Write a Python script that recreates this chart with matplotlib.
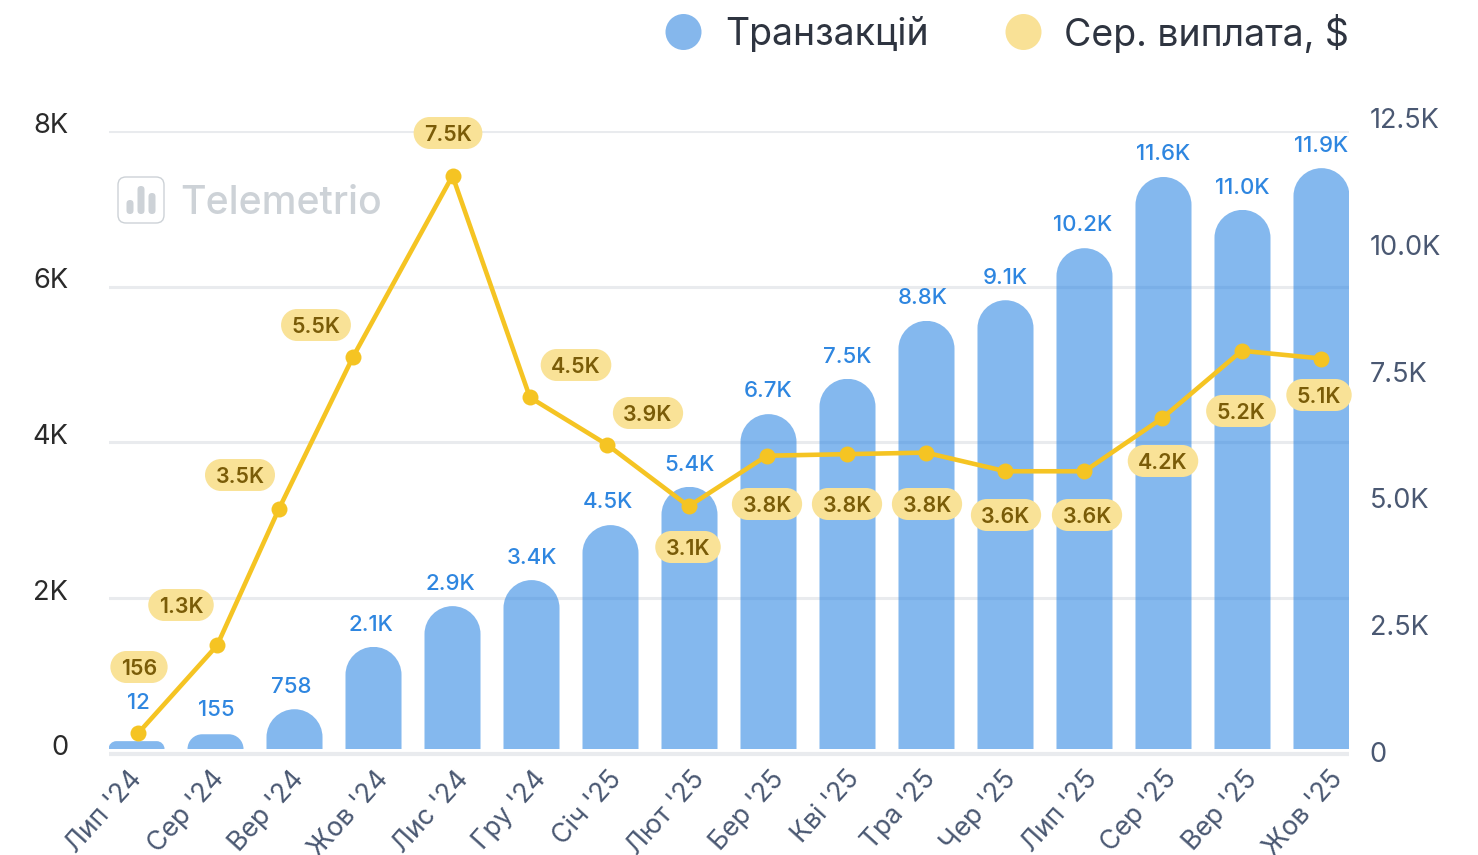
import matplotlib
matplotlib.use("Agg")
import matplotlib.pyplot as plt
from matplotlib.path import Path
from matplotlib.patches import Circle, FancyBboxPatch
from matplotlib.transforms import IdentityTransform, ScaledTranslation

plt.rcParams['font.family'] = ['Inter', 'DejaVu Sans']

months = ["Лип '24", "Сер '24", "Вер '24", "Жов '24", "Лис '24", "Гру '24", "Січ '25", "Лют '25",
          "Бер '25", "Кві '25", "Тра '25", "Чер '25", "Лип '25", "Сер '25", "Вер '25", "Жов '25"]
transactions = [0.16, 0.30, 0.81, 2.08, 2.91, 3.44, 4.56, 5.34,
                6.82, 7.54, 8.72, 9.14, 10.2, 11.65, 10.98, 11.83]
transaction_labels = ["12", "155", "758", "2.1K", "2.9K", "3.4K", "4.5K", "5.4K",
                      "6.7K", "7.5K", "8.8K", "9.1K", "10.2K", "11.6K", "11.0K", "11.9K"]
payout_x = [0.02, 1.02, 1.80, 2.74, 4.0, 4.98, 5.96, 6.99,
            7.98, 8.99, 9.99, 11.0, 12.0, 12.98, 13.99, 15.0]
payout = [0.26, 1.39, 3.14, 5.10, 7.43, 4.58, 3.97, 3.18,
          3.83, 3.85, 3.87, 3.63, 3.63, 4.31, 5.18, 5.08]
payout_labels = ["156", "1.3K", "3.5K", "5.5K", "7.5K", "4.5K", "3.9K", "3.1K",
                 "3.8K", "3.8K", "3.8K", "3.6K", "3.6K", "4.2K", "5.2K", "5.1K"]
left_ticks = [0, 2, 4, 6, 8]
left_tick_labels = ["0", "2K", "4K", "6K", "8K"]
right_ticks = [0, 2.5, 5, 7.5, 10, 12.5]
right_tick_labels = ["0", "2.5K", "5.0K", "7.5K", "10.0K", "12.5K"]
legend_names = ["Транзакцій", "Сер. виплата, $"]

W, H = 1478, 855
BLUE = "#2B85E2"; BLUE_TXT = "#2E86E0"; YEL = "#F5C423"; PILL = "#F9E297"; PILL_TXT = "#7A5C08"
GRID = "#E9EBEE"; SLATE = "#4A5872"; DARK = "#2A2A2A"; LOGO = "#CDD2D7"

# label offsets from the anchor point, in pixels
blue_dx = [1.5, .5, -3.5, -2.5, -2.5, .5, -2.5, -.5, -.5, -.5, -3.5, -.5, -1.5, -.5, -.5, -.5]
blue_dy = [38, 24, 22, 22, 22, 22, 23, 22, 23, 22, 23, 22, 23, 23, 22, 22]
tick_dx = [-8, -5.1, -4.3, 1.6, 2.5, .3, -2.8, 1, 1.9, -2.2, -4.3, -3.5, -.6, -.7, 1.1, 7]
pill_xy = [(139, 667), (181, 605), (240, 475), (316, 325), (448, 133), (576, 365), (648, 413), (688, 547),
           (767, 504), (847, 504), (927, 504), (1006, 515), (1087, 515), (1163, 461), (1241, 411), (1319, 395)]

fig = plt.figure(figsize=(W / 100, H / 100), dpi=100, facecolor="white")

def rect(x0, y_top, x1, y_bot):
    return [x0 / W, 1 - y_bot / H, (x1 - x0) / W, (y_bot - y_top) / H]

AX_L, AX_R, AX_T, AX_B = 109, 1349, 131.5, 753.5
SP = 78.97
xlim = (-(136.5 - AX_L) / SP, 15 + (AX_R - 1321.5) / SP)

ax = fig.add_axes(rect(AX_L, AX_T, AX_R, AX_B))
ax.set_xlim(*xlim); ax.set_ylim(0, 8)
ax.set_yticks(left_ticks, left_tick_labels)
ax.grid(axis="y", color=GRID, lw=2.2); ax.set_axisbelow(True)
ax.tick_params(axis="y", length=0, pad=29.5, labelsize=19.6, labelcolor=DARK)
shift = ScaledTranslation(0, 8.5 / 100, fig.dpi_scale_trans)
for t in ax.get_yticklabels():
    t.set_transform(t.get_transform() + shift)
for s in ax.spines.values():
    s.set_visible(False)
ax.set_xticks(range(len(months)), months)
ax.tick_params(axis="x", length=0, pad=9, labelsize=19.2, labelcolor=SLATE)
for i, t in enumerate(ax.get_xticklabels()):
    t.set_rotation(48); t.set_ha("right"); t.set_va("top"); t.set_rotation_mode("anchor")
    t.set_transform(t.get_transform() + ScaledTranslation(tick_dx[i] / 100, 0, fig.dpi_scale_trans))
ax.axhline(0, color=GRID, lw=3, clip_on=False, zorder=1, solid_capstyle="butt")

# bars
PX_K = 49.1
axb = ax.twinx(); axb.set_xlim(*xlim)
axb.set_ylim(-(AX_B - 749) / PX_K, (749 - AX_T) / PX_K)
axb.axis("off")
bars = axb.bar(range(len(transactions)), transactions, width=56 / SP, color=BLUE, alpha=0.58, lw=0)
fig.canvas.draw()
for b in bars:
    (x0, y0), (x1, y1) = axb.transData.transform([(b.get_x(), b.get_y()), (b.get_x() + b.get_width(), b.get_height())])
    r = min((x1 - x0) / 2, y1 - y0)
    k = 0.5523 * r
    verts = [(x0, y0), (x0, y1 - r), (x0, y1 - r + k), (x0 + r - k, y1), (x0 + r, y1), (x1 - r, y1),
             (x1 - r + k, y1), (x1, y1 - r + k), (x1, y1 - r), (x1, y0), (x0, y0)]
    codes = [Path.MOVETO, Path.LINETO, Path.CURVE4, Path.CURVE4, Path.CURVE4, Path.LINETO,
             Path.CURVE4, Path.CURVE4, Path.CURVE4, Path.LINETO, Path.CLOSEPOLY]
    b.set_clip_path(Path(verts, codes), IdentityTransform())

for i, (v, s) in enumerate(zip(transactions, transaction_labels)):
    axb.annotate(s, (i, v), xytext=(blue_dx[i] * .72, blue_dy[i] * .72), textcoords="offset points",
                 ha="center", va="center", color=BLUE_TXT, fontsize=16, fontweight=500, annotation_clip=False)

# line
axl = ax.twinx(); axl.set_xlim(*xlim); axl.set_ylim(0, 8); axl.axis("off")
axl.plot(payout_x, payout, color=YEL, lw=3.3, marker="o", ms=11.5, mew=0, clip_on=False, zorder=3)

def pill(x0, y0, w, h, mutation_size):
    cy = y0 + h / 2 + 2
    pad, ph = 10.5, 32
    xa, xb = x0 - pad, x0 + w + pad
    ya, yb = cy - ph / 2, cy + ph / 2
    r = ph / 2; k = 0.5523 * r
    verts = [(xa + r, ya), (xb - r, ya), (xb - r + k, ya), (xb, cy - k), (xb, cy), (xb, cy + k), (xb - r + k, yb),
             (xb - r, yb), (xa + r, yb), (xa + r - k, yb), (xa, cy + k), (xa, cy), (xa, cy - k), (xa + r - k, ya),
             (xa + r, ya), (xa + r, ya)]
    codes = [Path.MOVETO, Path.LINETO, Path.CURVE4, Path.CURVE4, Path.CURVE4, Path.CURVE4, Path.CURVE4,
             Path.CURVE4, Path.LINETO, Path.CURVE4, Path.CURVE4, Path.CURVE4, Path.CURVE4, Path.CURVE4,
             Path.CURVE4, Path.CLOSEPOLY]
    return Path(verts, codes)

for (px, py), s in zip(pill_xy, payout_labels):
    axl.text(px / W, 1 - py / H, s, transform=fig.transFigure + ScaledTranslation(0, -2 / 100, fig.dpi_scale_trans),
             ha="center", va="center", color=PILL_TXT, fontsize=15.4, fontweight=600, zorder=5,
             bbox=dict(boxstyle=pill, fc=PILL, ec="none"), clip_on=False)

# right axis labels
axr = fig.add_axes(rect(AX_L, 118, AX_R, 752))
axr.patch.set_visible(False)
axr.set_xlim(*xlim); axr.set_ylim(0, 12.5); axr.set_xticks([])
axr.yaxis.tick_right()
axr.set_yticks(right_ticks, right_tick_labels)
axr.tick_params(axis="y", length=0, pad=15, labelsize=19.5, labelcolor=SLATE)
for s in axr.spines.values():
    s.set_visible(False)

# legend
leg_x = [(683.5, 725), (1023.5, 1064)]
for (cx, tx), name, col in zip(leg_x, legend_names, ["#85B7EC", "#F9E196"]):
    fig.add_artist(Circle((cx, H - 32), 18, transform=IdentityTransform(), fc=col, ec="none"))
    fig.text(tx / W, 1 - 34.5 / H, name, ha="left", va="center", fontsize=27, color="#2E3440")

# watermark
fig.add_artist(FancyBboxPatch((118, H - 223), 46, 46, boxstyle="round,pad=0,rounding_size=8",
                              transform=IdentityTransform(), fc="none", ec=LOGO, lw=1))
for cx, top, bot in [(130, 200, 214), (141, 186, 214), (152, 193, 214)]:
    fig.add_artist(FancyBboxPatch((cx - 3.5, H - bot), 7, bot - top, boxstyle="round,pad=0,rounding_size=3.5",
                                  transform=IdentityTransform(), fc=LOGO, ec="none"))
fig.text(180 / W, 1 - 204 / H, "Telemetrio", ha="left", va="center", fontsize=28.2, color=LOGO,
         family="Inter", fontweight=500)

fig.savefig("out.png", dpi=100)
